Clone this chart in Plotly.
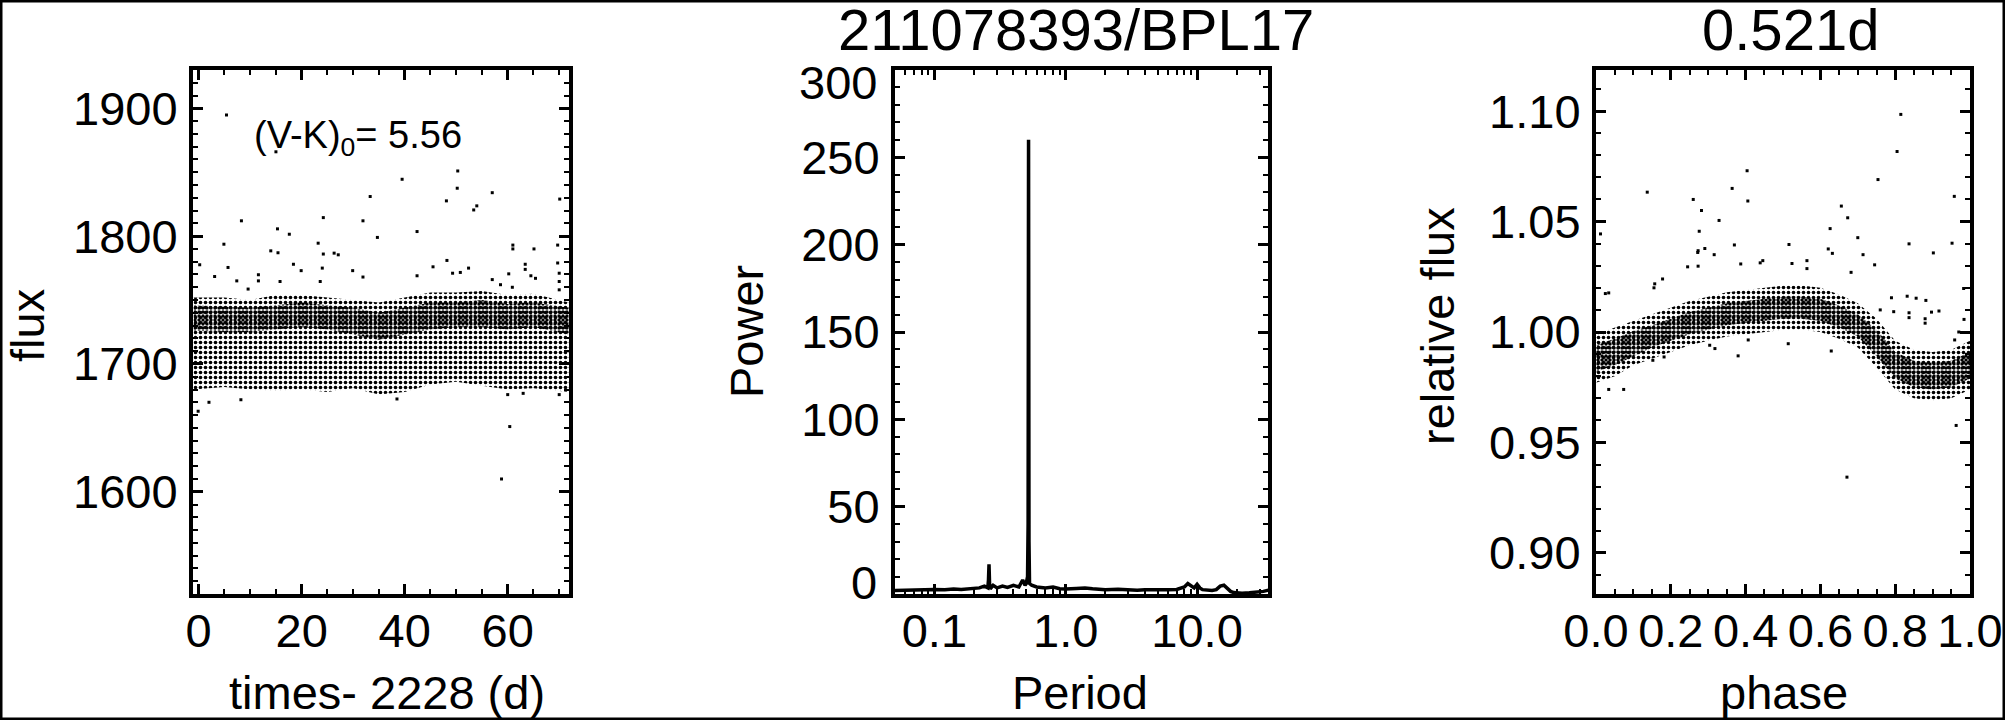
import plotly.graph_objects as go

W, H = 2005, 720

# ---------------- Panel 1: light curve ----------------
lc_band_t = [-1.0, 5, 10, 15, 20, 25, 30, 35, 40, 45, 50, 55, 60, 65, 71.9]
lc_outer_hi = [1752, 1752, 1750, 1754, 1754, 1752, 1750, 1748, 1752, 1756, 1756, 1757, 1754, 1755, 1748]
lc_outer_lo = [1680, 1682, 1680, 1679, 1680, 1678, 1681, 1676, 1678, 1684, 1686, 1683, 1680, 1681, 1678]
lc_core_hi = [1746, 1745, 1744, 1746, 1748, 1746, 1744, 1740, 1744, 1748, 1748, 1750, 1747, 1748, 1744]
lc_core_lo = [1726, 1725, 1725, 1727, 1729, 1727, 1723, 1719, 1723, 1727, 1729, 1729, 1727, 1729, 1723]

lc_out_t = [5.4, 15.0, 50.3, 39.5, 50.2, 33.3, 48.1, 54.0, 53.4, 24.2, 8.3, 31.9, 42.4, 15.3, 17.6,
            34.7, 4.9, 23.2, 14.0, 15.4, 24.2, 26.3, 27.1, 48.2, 50.8, 52.4, 0.2, 5.7, 18.4, 3.1,
            11.6, 11.6, 19.9, 24.0, 29.9, 31.9, 45.5, 42.4, 7.4, 15.8, 23.6, 9.6, 57.0, 70.1,
            61.0, 61.0, 65.1, 69.7, 63.4, 63.4, 69.7, 64.5, 65.4, 70.0, 70.0, 70.0, 57.0, 60.2,
            58.6, 60.9, 49.3, -0.1, 2.0, 8.2, 38.5, 60.4, 58.8, 60.0, 63.0, 70.0]
lc_out_f = [1894.8, 1866, 1851, 1844.5, 1837.5, 1831, 1827.6, 1823.7, 1820.5, 1814.5, 1812, 1812,
            1803.6, 1805.7, 1801.5, 1799, 1793.7, 1794.5, 1788.5, 1787, 1786, 1786.7, 1785.4, 1781,
            1771.6, 1775, 1777.6, 1775.5, 1778, 1768.4, 1769.8, 1765, 1773, 1775, 1773, 1768, 1776,
            1769, 1765, 1764.5, 1764.5, 1758.6, 1834, 1829, 1793, 1790, 1790, 1793, 1778, 1774,
            1779, 1769, 1767, 1771, 1764.5, 1758, 1766, 1770.5, 1762, 1760, 1771, 1663, 1670, 1672,
            1672.6, 1651, 1610, 1676, 1677, 1676]

# ---------------- Panel 2: periodogram ----------------
pg_period = [0.05, 0.06, 0.07, 0.08, 0.09, 0.10, 0.12, 0.14, 0.16, 0.18, 0.20, 0.22, 0.24, 0.255,
             0.258, 0.2605, 0.263, 0.266, 0.28, 0.30, 0.33, 0.36, 0.40, 0.44, 0.47, 0.49, 0.50,
             0.512, 0.517, 0.521, 0.525, 0.53, 0.55, 0.6, 0.7, 0.8, 0.9, 1.0, 1.2, 1.4, 1.6, 1.8,
             2.0, 2.5, 3, 3.5, 4, 5, 6, 7, 8, 8.5, 9, 9.5, 10, 10.5, 11, 12, 13, 14, 15, 16, 17,
             18, 19, 20, 22, 25, 28, 32, 35]
pg_power = [2, 2.2, 2, 2.5, 2.3, 2.6, 2.4, 2.8, 2.6, 3.0, 3.2, 3.5, 4.5, 3.5, 8, 17, 6, 3, 5, 3.5,
            4.5, 3.8, 5, 4, 8, 5, 6, 10, 40, 260, 30, 6, 5, 4, 3.5, 4, 3, 2.8, 3.2, 3.5, 3, 2.8,
            2.5, 2.7, 2.4, 2.2, 2.5, 2.2, 2.4, 2.6, 4, 6, 5, 3.5, 5.5, 3.5, 2.5, 2.2, 2.0, 2.5,
            4.5, 5, 3.5, 1.5, 0.8, 0.6, 0.5, 0.7, 1.0, 1.5, 2.2]
pg_inner_ticks = [50, 100, 150, 200, 250]
pg_edge_labels = ["0", "300"]

# ---------------- Panel 3: phased light curve ----------------
ph_band = [0, 0.05, 0.1, 0.15, 0.2, 0.25, 0.3, 0.35, 0.4, 0.45, 0.5, 0.55, 0.6, 0.65, 0.7, 0.75,
           0.8, 0.85, 0.9, 0.95, 1.0]
ph_outer_hi = [0.999, 1.002, 1.005, 1.008, 1.011, 1.014, 1.016, 1.018, 1.019, 1.020, 1.021, 1.021,
               1.020, 1.017, 1.013, 1.006, 0.996, 0.992, 0.991, 0.992, 0.996]
ph_outer_lo = [0.977, 0.980, 0.985, 0.988, 0.991, 0.994, 0.996, 0.998, 0.999, 1.000, 1.001, 1.001,
               1.000, 0.997, 0.993, 0.984, 0.974, 0.970, 0.969, 0.970, 0.974]
ph_core_hi = [0.994, 0.997, 1.0005, 1.003, 1.006, 1.009, 1.011, 1.013, 1.014, 1.015, 1.016, 1.016,
              1.015, 1.012, 1.008, 1.001, 0.991, 0.987, 0.986, 0.987, 0.991]
ph_core_lo = [0.982, 0.985, 0.989, 0.993, 0.996, 0.999, 1.001, 1.003, 1.004, 1.005, 1.006, 1.006,
              1.005, 1.002, 0.998, 0.989, 0.979, 0.975, 0.974, 0.975, 0.979]

ph_out_p = [0.805, 0.815, 0.404, 0.137, 0.754, 0.364, 0.260, 0.406, 0.958, 0.656, 0.282, 0.673,
            0.329, 0.276, 0.012, 0.626, 0.700, 0.952, 0.837, 0.516, 0.370, 0.273, 0.272, 0.291,
            0.621, 0.632, 0.902, 0.316, 0.714, 0.439, 0.446, 0.564, 0.745, 0.245, 0.273, 0.387,
            0.524, 0.564, 0.682, 0.178, 0.157, 0.155, 0.025, 0.034, 0.790, 0.832, 0.856, 0.882,
            0.983, 0.917, 0.897, 0.837, 0.837, 0.880, 0.880, 0.984, 0.970, 0.959, 0.796, 0.760,
            0.034, 0.074, 0.152, 0.182, 0.380, 0.514, 0.629, 0.407, 0.304, 0.318, 0.963, 0.671]
ph_out_f = [1.0817, 1.0985, 1.073, 1.0633, 1.069, 1.065, 1.060, 1.0593, 1.0614, 1.057, 1.055,
            1.0517, 1.0505, 1.0456, 1.0444, 1.0468, 1.0427, 1.0402, 1.0399, 1.0396, 1.0394,
            1.0368, 1.036, 1.0378, 1.0376, 1.0356, 1.0358, 1.035, 1.035, 1.0313, 1.0323, 1.0323,
            1.0304, 1.0295, 1.0298, 1.0308, 1.031, 1.0287, 1.027, 1.024, 1.0218, 1.020, 1.0174,
            1.0177, 1.0155, 1.0162, 1.0153, 1.0143, 1.0197, 1.0095, 1.009, 1.0087, 1.0065, 1.006,
            1.004, 1.0057, 1.0, 0.9964, 1.0092, 1.010, 0.974, 0.974, 0.9872, 0.9887, 0.9892,
            0.9947, 0.9914, 0.9964, 0.994, 0.9925, 0.9577, 0.9343]

# ---------------- Layout helpers ----------------
FONT = "Liberation Sans"
TICKFS = 47
TITLEFS = 58
LABFS = 47


def fx(px):
    return px / W


def fy(py):
    return 1 - py / H


Y_DOM = [fy(594), fy(70)]
X_DOMS = [[fx(193), fx(569)], [fx(895), fx(1268)], [fx(1596), fx(1970)]]


def band_trace(xs, hi, lo, size, solidity, xa, ya):
    return go.Scatter(
        x=list(xs) + list(xs)[::-1], y=list(hi) + list(lo)[::-1],
        mode="lines", line=dict(width=0), fill="toself",
        fillcolor="rgba(0,0,0,0)",
        fillpattern=dict(shape=".", size=size, solidity=solidity,
                         fgcolor="black", bgcolor="rgba(0,0,0,0)"),
        hoverinfo="skip", showlegend=False, xaxis=xa, yaxis=ya)


def dots(xs, ys, xa, ya):
    return go.Scatter(x=xs, y=ys, mode="markers",
                      marker=dict(symbol="square", size=3, color="black", line=dict(width=0)),
                      showlegend=False, xaxis=xa, yaxis=ya)


fig = go.Figure()
# panel 1
fig.add_trace(band_trace(lc_band_t, lc_outer_hi, lc_outer_lo, 5, 0.42, "x", "y"))
fig.add_trace(band_trace(lc_band_t, lc_core_hi, lc_core_lo, 4, 0.55, "x", "y"))
fig.add_trace(dots(lc_out_t, lc_out_f, "x", "y"))
# panel 2
fig.add_trace(go.Scatter(x=pg_period, y=pg_power, mode="lines",
                         line=dict(color="black", width=3.5), showlegend=False,
                         xaxis="x2", yaxis="y2"))
# panel 3
fig.add_trace(band_trace(ph_band, ph_outer_hi, ph_outer_lo, 5, 0.42, "x3", "y3"))
fig.add_trace(band_trace(ph_band, ph_core_hi, ph_core_lo, 4, 0.6, "x3", "y3"))
fig.add_trace(dots(ph_out_p, ph_out_f, "x3", "y3"))


def axis_common(**kw):
    d = dict(showline=True, linewidth=4, linecolor="black", mirror="allticks",
             ticks="inside", ticklen=10, tickwidth=2.5, tickcolor="black",
             showgrid=False, zeroline=False, tickangle=0, automargin=False,
             tickfont=dict(family=FONT, size=TICKFS, color="black"))
    d.update(kw)
    return d


XSTAND = -7
YSTAND = 2

fig.update_layout(
    template="none",
    width=W, height=H, margin=dict(l=0, r=0, t=0, b=0, pad=0, autoexpand=False),
    paper_bgcolor="white", plot_bgcolor="white",
    font=dict(family=FONT, color="black"),
    xaxis=axis_common(domain=X_DOMS[0], anchor="y", range=[-1.1, 71.9],
                      tickvals=[0, 20, 40, 60], ticklabelstandoff=XSTAND,
                      minor=dict(ticks="inside", ticklen=5, tickwidth=2, dtick=5, tick0=0,
                                 tickcolor="black")),
    yaxis=axis_common(domain=Y_DOM, anchor="x", range=[1520, 1930],
                      tickvals=[1600, 1700, 1800, 1900], ticklabelstandoff=YSTAND,
                      minor=dict(ticks="inside", ticklen=5, tickwidth=2, dtick=10, tick0=0,
                                 tickcolor="black")),
    xaxis2=axis_common(domain=X_DOMS[1], anchor="y2", type="log", range=[-1.3, 1.54],
                       tickvals=[0.1, 1, 10], ticktext=["0.1", "1.0", "10.0"],
                       ticklabelstandoff=XSTAND,
                       minor=dict(ticks="inside", ticklen=5, tickwidth=2, dtick="D1",
                                  tickcolor="black")),
    yaxis2=axis_common(domain=Y_DOM, anchor="x2", range=[0, 300],
                       tickvals=pg_inner_ticks, ticklabelstandoff=YSTAND,
                       minor=dict(ticks="inside", ticklen=5, tickwidth=2, dtick=10, tick0=0,
                                  tickcolor="black")),
    xaxis3=axis_common(domain=X_DOMS[2], anchor="y3", range=[0, 1],
                       tickvals=[0, 0.2, 0.4, 0.6, 0.8, 1.0],
                       ticktext=["0.0", "0.2", "0.4", "0.6", "0.8", "1.0"],
                       ticklabelstandoff=XSTAND,
                       minor=dict(ticks="inside", ticklen=5, tickwidth=2, dtick=0.05, tick0=0,
                                  tickcolor="black")),
    yaxis3=axis_common(domain=Y_DOM, anchor="x3", range=[0.8814, 1.1186],
                       tickvals=[0.90, 0.95, 1.00, 1.05, 1.10],
                       ticktext=["0.90", "0.95", "1.00", "1.05", "1.10"], ticklabelstandoff=YSTAND,
                       minor=dict(ticks="inside", ticklen=5, tickwidth=2, dtick=0.01, tick0=0,
                                  tickcolor="black")),
)


def ann(text, x, y, size, angle=0, xanchor="center", yanchor="middle"):
    fig.add_annotation(text=text, x=fx(x), y=fy(y), xref="paper", yref="paper",
                       showarrow=False, textangle=angle, xanchor=xanchor, yanchor=yanchor,
                       font=dict(family=FONT, size=size, color="black"))


ann("211078393/BPL17", 1076, 30, TITLEFS)
ann("0.521d", 1790, 30, TITLEFS)
ann("(V-K)<sub>0</sub>= 5.56", 358, 138, 38)
ann("flux", 28, 326, LABFS, angle=-90)
ann("Power", 746, 332, LABFS, angle=-90)
ann("relative flux", 1438, 326, LABFS, angle=-90)
ann("times- 2228 (d)", 387, 692, LABFS)
ann("Period", 1080, 692, LABFS)
ann("phase", 1784, 692, LABFS)
# IDL nudges the end labels of the Power axis inward
ann(pg_edge_labels[0], 879, 582, TICKFS, xanchor="right")
ann(pg_edge_labels[1], 879, 82, TICKFS, xanchor="right")

fig.add_shape(type="rect", xref="paper", yref="paper", x0=fx(1), x1=fx(W - 1), y0=fy(H - 1),
              y1=fy(1), line=dict(color="black", width=3))

fig.write_html("out.html", config={"displayModeBar": False},
               post_script="document.body.style.margin='0';document.body.style.overflow='hidden';")
